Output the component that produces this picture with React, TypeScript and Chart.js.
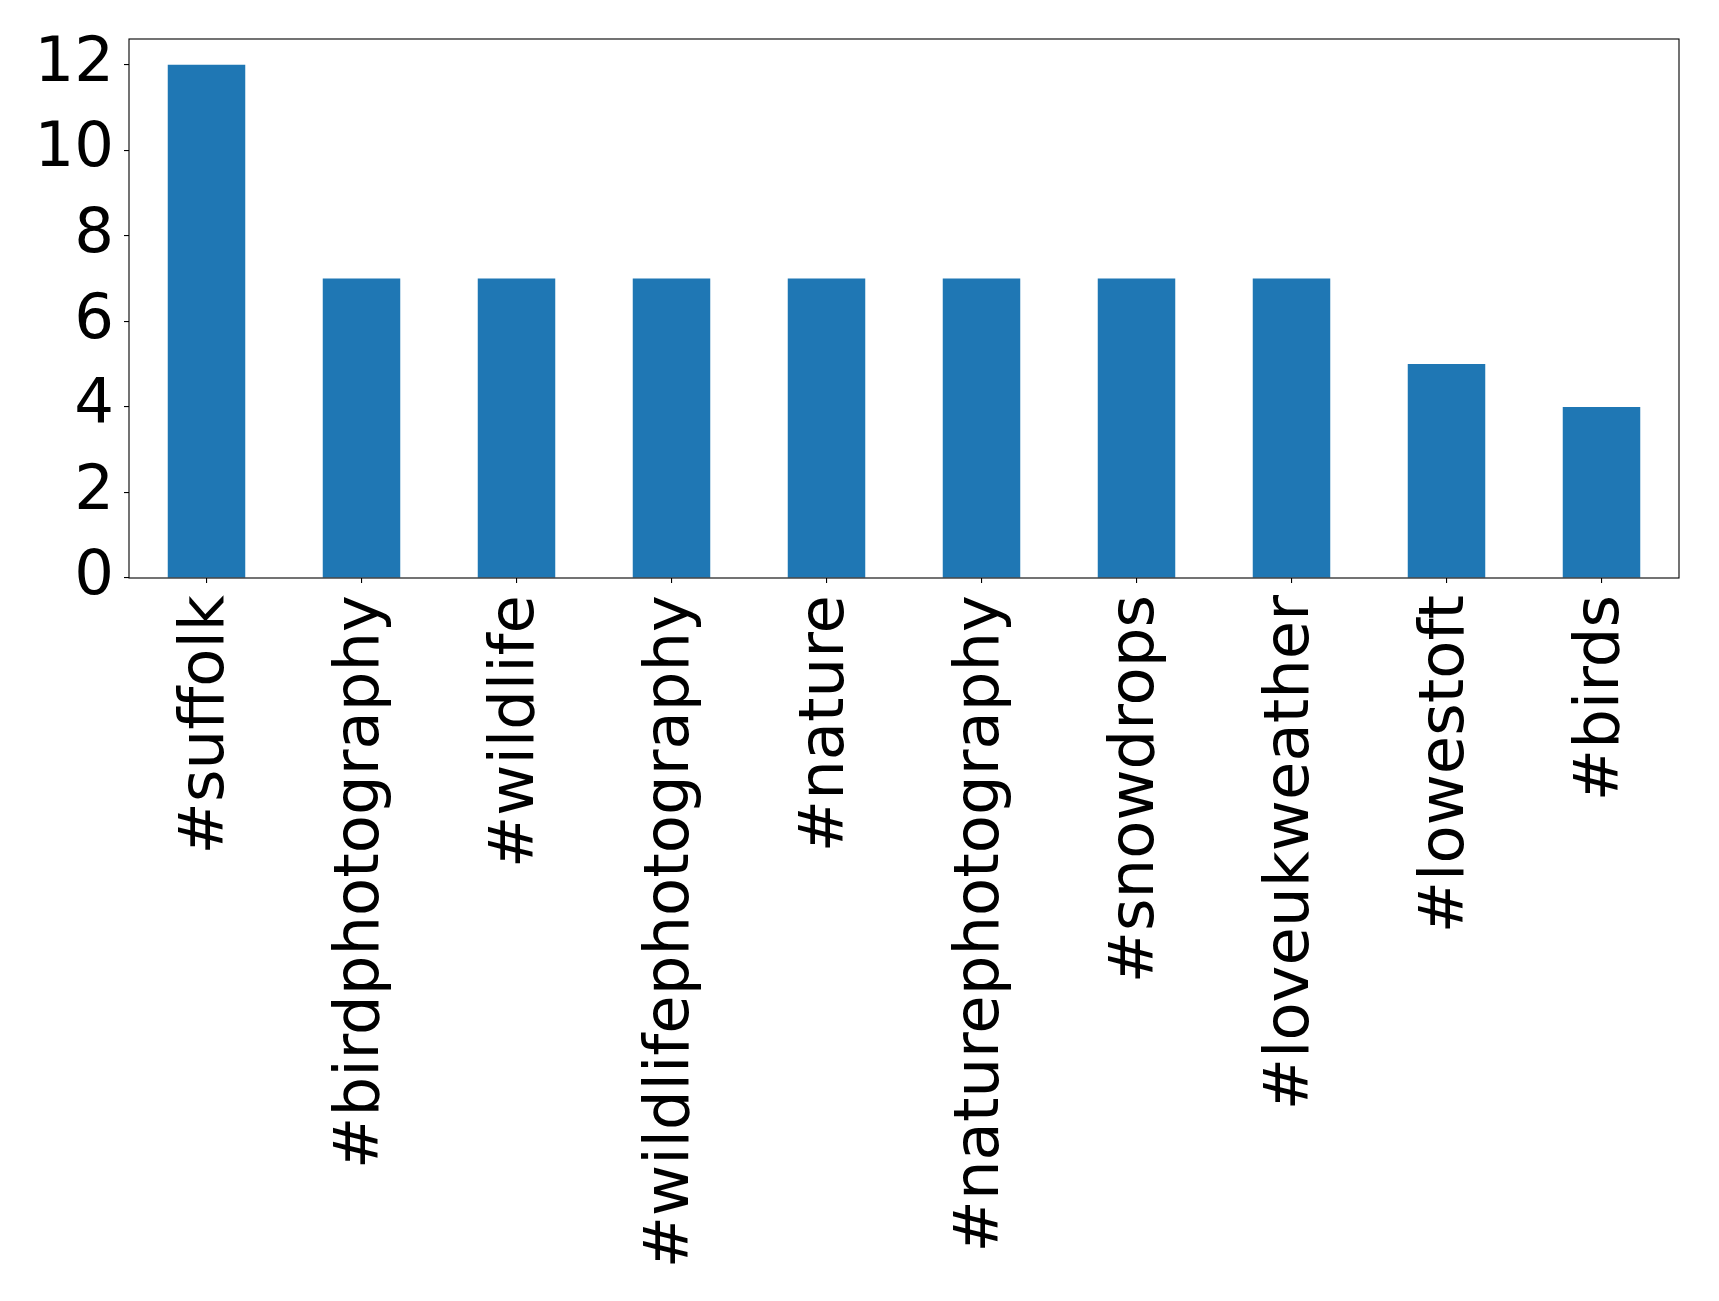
import React, { useEffect, useRef } from "react";
import { Chart, registerables } from "chart.js";

Chart.register(...registerables);

const categories = [
  "#suffolk",
  "#birdphotography",
  "#wildlife",
  "#wildlifephotography",
  "#nature",
  "#naturephotography",
  "#snowdrops",
  "#loveukweather",
  "#lowestoft",
  "#birds",
];
const counts = [12, 7, 7, 7, 7, 7, 7, 7, 5, 4];
const yTicks = [0, 2, 4, 6, 8, 10, 12];
const yMax = 12.6;

const FONT = "'DejaVu Sans', sans-serif";

const framePlugin = {
  id: "frame",
  afterDraw(chart: any) {
    const { ctx, chartArea } = chart;
    ctx.save();
    ctx.strokeStyle = "#000";
    ctx.lineWidth = 1.1;
    ctx.strokeRect(chartArea.left, chartArea.top, chartArea.right - chartArea.left, chartArea.bottom - chartArea.top);
    ctx.restore();
  },
};

export default function App() {
  const ref = useRef<HTMLCanvasElement>(null);
  useEffect(() => {
    const chart = new Chart(ref.current!, {
      type: "bar",
      data: {
        labels: categories,
        datasets: [
          {
            data: counts,
            backgroundColor: "#1f77b4",
            borderWidth: 0,
            barPercentage: 0.5,
            categoryPercentage: 1.0,
          },
        ],
      },
      options: {
        animation: false,
        responsive: false,
        devicePixelRatio: 1,
        layout: { padding: { top: 39, right: 40, left: 0, bottom: 0 } },
        plugins: { legend: { display: false }, tooltip: { enabled: false } },
        scales: {
          x: {
            offset: true,
            grid: { display: true, drawOnChartArea: false, drawTicks: true, tickLength: 5, color: "#000", offset: false, lineWidth: 1.1 },
            border: { display: false },
            ticks: {
              color: "#000",
              font: { family: FONT, size: 62.5 },
              minRotation: 90,
              maxRotation: 90,
              autoSkip: false,
              padding: 12,
            },
            afterFit: (s: any) => {
              s.height = 1301 - 578;
              s.paddingLeft = 0;
              s.paddingRight = 0;
            },
          },
          y: {
            min: 0,
            max: yMax,
            grid: { display: true, drawOnChartArea: false, drawTicks: true, tickLength: 5, color: "#000", lineWidth: 1.1 },
            border: { display: false },
            afterBuildTicks: (s: any) => {
              s.ticks = yTicks.map((v) => ({ value: v }));
            },
            ticks: {
              color: "#000",
              font: { family: FONT, size: 62.5 },
              padding: 10,
            },
            afterFit: (s: any) => {
              s.width = 129;
              s.paddingTop = 0;
              s.paddingBottom = 0;
            },
          },
        },
      },
      plugins: [framePlugin],
    });
    return () => chart.destroy();
  }, []);
  return (
    <div style={{ position: "absolute", left: 0, top: 0, width: 1719, height: 1301, background: "#fff" }}>
      <canvas ref={ref} width={1719} height={1301} style={{ width: 1719, height: 1301 }} />
    </div>
  );
}
